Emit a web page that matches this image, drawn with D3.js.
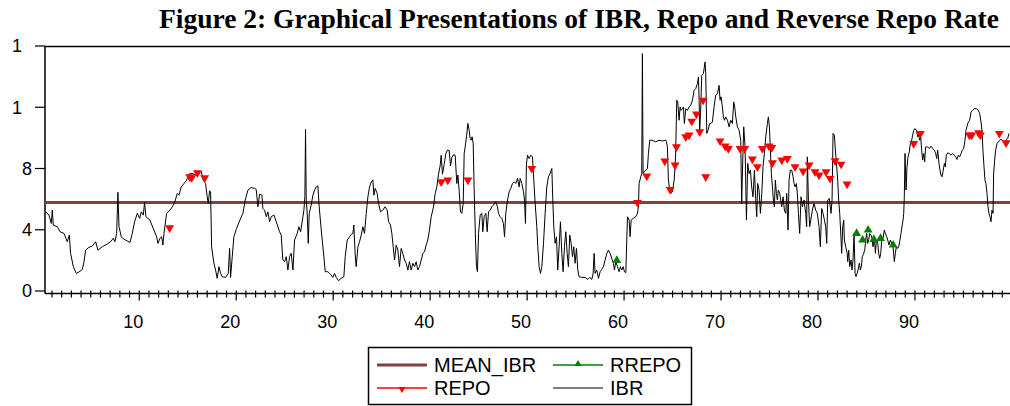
<!DOCTYPE html>
<html>
<head>
<meta charset="utf-8">
<script src="https://cdn.jsdelivr.net/npm/d3@7"></script>
<style>
  body { margin: 0; background: #fff; }
  svg { display: block; }
  .tick-label { font-family: Arial, "Liberation Sans", sans-serif; font-size: 18px; fill: #000; }
  .legend-label { font-family: Arial, "Liberation Sans", sans-serif; font-size: 20px; fill: #000; }
</style>
</head>
<body>
<svg id="chart" width="1010" height="406"></svg>
<script>
const TITLE = 'Figure 2: Graphical Presentations of IBR, Repo and Reverse Repo Rate';

const meanIbr = 5.78;

const yTickValues = [0, 4, 8, 12, 16];
const yTickLabels = ['0', '4', '8', '1', '1'];
const xMajorTicks = [10, 20, 30, 40, 50, 60, 70, 80, 90];
const xMinorTicks = d3.range(1, 100);

// IBR daily series, [x, rate]
const ibr = [
  [0.35,5.17],[0.69,4.96],[0.93,4.41],[1.03,5.28],[1.14,4.30],[1.55,4.20],[1.82,3.87],[2.24,3.76],[2.58,3.22],[2.79,3.65],
  [2.92,2.46],[3.20,1.59],[3.51,1.15],[3.78,1.24],[4.13,1.41],[4.30,1.91],[4.47,2.67],[4.81,2.85],[5.16,2.94],[5.50,3.22],
  [5.74,2.67],[6.19,2.89],[6.70,3.07],[7.05,3.22],[7.32,3.44],[7.49,3.22],[7.67,3.76],[7.80,6.44],[7.91,4.20],[8.15,3.54],
  [8.29,3.44],[8.59,3.33],[9.04,3.17],[9.28,3.76],[9.52,4.52],[9.80,5.07],[10.04,4.74],[10.21,5.17],[10.42,4.96],[10.55,5.79],
  [10.69,4.85],[11.10,4.63],[11.51,3.98],[11.79,3.54],[11.93,3.11],[12.13,3.44],[12.31,3.54],[12.44,3.00],[12.55,3.76],[12.82,5.07],
  [13.16,5.28],[13.41,5.50],[13.68,5.83],[13.92,6.37],[14.09,6.26],[14.33,6.80],[14.61,7.02],[14.88,7.24],[15.12,7.63],[15.47,7.68],
  [15.81,7.57],[16.15,7.78],[16.40,7.80],[16.60,7.24],[16.84,7.02],[17.01,6.15],[17.12,5.72],[17.25,6.54],[17.36,6.48],[17.46,2.89],
  [17.70,1.81],[17.87,1.37],[18.04,0.83],[18.22,1.59],[18.39,1.15],[18.56,0.93],[18.90,0.89],[19.18,1.15],[19.32,2.78],[19.42,0.89],
  [19.59,2.24],[19.76,3.54],[20.04,4.09],[20.38,4.63],
  [20.69,5.07],[20.93,5.94],[21.21,6.59],[21.55,6.76],[21.89,6.70],[22.06,6.63],[22.24,5.50],[22.41,6.33],[22.65,6.26],[22.75,5.39],
  [22.92,5.28],[23.10,4.85],[23.27,5.17],[23.44,4.52],[23.61,4.85],[23.89,4.96],[24.13,4.52],[24.47,3.87],[24.64,3.65],[24.81,2.02],
  [24.99,1.91],[25.16,2.24],[25.33,1.37],[25.50,2.24],[25.67,2.46],[25.85,1.37],[26.02,3.33],[26.29,3.76],[26.46,4.20],[26.64,3.87],
  [26.88,4.85],[26.98,5.28],[27.08,6.15],[27.15,10.55],[27.22,5.94],[27.32,5.07],[27.43,3.11],[27.53,5.07],[27.73,5.61],[27.91,6.26],
  [28.08,6.59],[28.25,6.80],[28.42,6.87],[28.56,5.50],[28.77,3.98],[29.04,2.24],[29.18,1.26],[29.45,1.26],[29.63,1.15],[29.80,1.04],
  [29.97,0.89],[30.14,1.15],[30.31,0.89],[30.55,0.67],[30.83,0.83],[31.10,0.93],[31.24,2.24],[31.45,3.33],[31.69,3.54],[31.86,3.70],
  [32.03,3.76],[32.13,4.31],[32.27,2.35],[32.37,1.59],[32.55,2.89],[32.72,3.22],[32.89,3.65],[33.06,4.20],[33.23,3.76],[33.41,5.07],
  [33.58,6.15],[33.75,6.80],[33.92,7.11],[34.09,7.26],[34.20,6.26],[34.33,6.70],[34.54,6.37],[34.68,5.72],[34.88,5.17],[35.12,5.28],
  [35.36,5.50],[35.57,5.28],[35.71,4.52],[35.91,4.31],[36.05,3.76],[36.19,2.89],[36.33,2.02],[36.50,3.00],[36.67,2.67],[36.84,1.59],
  [37.01,2.78],[37.18,2.46],[37.36,2.02],[37.53,1.81],[37.70,1.37],[37.87,1.91],[38.04,1.37],[38.22,1.81],[38.39,1.59],[38.56,1.91],
  [38.73,1.37],[38.90,1.59],[39.08,2.02],[39.25,2.46],[39.42,2.56],[39.59,3.00],[39.76,3.33],[39.93,3.98],[40.11,4.85],
  [40.35,5.50],[40.52,6.37],[40.69,6.80],[40.86,7.63],[41.03,8.17],[41.14,8.87],[41.27,7.63],[41.45,8.28],[41.62,8.98],[41.79,9.20],
  [41.96,9.17],[42.10,8.17],[42.24,8.72],[42.41,8.90],[42.58,8.87],[42.75,7.02],[42.86,7.57],[42.99,6.59],[43.13,5.17],[43.27,5.07],
  [43.41,5.72],[43.51,8.98],[43.61,9.41],[43.75,10.07],[43.89,10.94],[44.02,10.50],[44.13,9.96],[44.23,9.85],[44.33,10.07],[44.44,9.63],
  [44.54,6.59],[44.68,3.33],[44.78,1.59],[44.88,1.26],[44.99,3.76],[45.16,4.96],[45.33,5.07],[45.43,3.87],[45.57,4.85],[45.74,5.07],
  [45.88,3.87],[46.02,5.17],[46.19,5.28],[46.36,5.50],[46.53,5.61],[46.77,5.83],[46.94,5.50],[47.05,5.07],[47.22,4.85],[47.39,4.74],
  [47.56,4.41],[47.67,3.54],[47.80,5.07],[47.98,5.94],[48.15,6.48],[48.32,6.70],[48.49,7.02],[48.66,7.13],[48.83,7.02],[49.01,7.35],
  [49.18,6.80],[49.28,7.35],[49.45,7.02],[49.63,6.48],[49.73,5.94],[49.83,4.41],[49.93,8.28],[50.04,8.87],[50.21,8.65],[50.38,8.87],
  [50.55,8.76],[50.69,7.24],[50.83,5.72],[51.00,4.20],[51.10,2.89],[51.24,1.59],[51.38,1.15],[51.52,1.59],[51.69,3.11],[51.86,5.07],
  [52.03,6.80],[52.20,7.46],[52.37,7.67],[52.55,8.00],[52.65,5.94],[52.75,4.20],[52.89,3.11],[53.03,3.54],[53.16,1.37],[53.30,2.89],
  [53.44,4.52],[53.58,2.46],[53.71,1.26],[53.85,2.89],[53.99,3.87],[54.13,2.46],[54.26,1.59],[54.40,3.65],[54.54,3.11],[54.68,2.24],
  [54.81,2.89],[54.95,1.81],[55.09,2.78],[55.23,1.37],[55.36,0.93],[55.64,0.89],[55.98,0.89],[56.26,0.76],[56.46,0.89],[56.67,0.76],
  [56.81,1.15],[56.91,2.46],[57.01,1.15],[57.18,1.37],[57.36,0.83],[57.53,1.26],[57.70,1.41],[57.87,1.59],[58.04,2.02],[58.22,2.46],
  [58.39,2.67],[58.56,2.46],[58.73,2.13],[58.90,1.81],[59.01,1.37],[59.14,1.91],[59.32,1.59],[59.49,1.26],[59.63,1.59],[59.76,1.37],
  [59.90,1.59],[60.04,1.26],[60.18,1.20],
  [60.35,4.85],[60.52,4.63],[60.62,3.55],[60.73,4.63],[60.93,4.74],[61.21,4.85],[61.38,5.07],[61.48,5.50],[61.55,7.02],[61.72,7.46],
  [61.82,7.67],[61.89,15.50],[61.96,7.67],[62.06,7.78],[62.24,7.89],[62.41,8.00],[62.51,8.98],[62.65,9.85],[62.86,9.85],[63.27,9.74],
  [63.61,9.85],[63.95,9.80],[64.30,9.85],[64.37,9.74],[64.47,9.41],[64.57,7.24],[64.71,6.59],[64.81,6.37],[64.99,6.48],[65.16,7.24],
  [65.26,8.11],[65.33,9.20],[65.43,12.46],[65.54,12.35],[65.67,11.15],[65.78,12.02],[65.88,11.80],[66.02,11.91],[66.12,12.02],[66.22,10.94],
  [66.36,11.91],[66.53,11.80],[66.70,12.02],[66.88,12.13],[67.05,12.46],[67.22,13.11],[67.39,13.22],[67.56,13.54],[67.67,13.98],[67.74,12.46],
  [67.80,10.50],[67.91,12.02],[68.01,14.09],[68.18,14.20],[68.35,14.96],[68.42,14.20],[68.53,10.29],[68.66,10.50],[68.83,10.94],[68.97,10.94],
  [69.11,11.04],[69.28,12.02],[69.45,12.79],[69.63,12.89],[69.80,13.43],[69.90,12.46],[70.00,12.68],[70.14,12.02],[70.24,11.37],[70.35,11.15],
  [70.48,11.37],[70.66,11.15],[70.83,10.72],[71.00,11.15],[71.17,10.94],[71.31,12.35],[71.41,12.02],[71.52,11.37],[71.69,10.72],[71.86,10.50],
  [72.03,9.85],[72.13,5.72],[72.24,8.55],[72.34,10.72],[72.48,9.41],[72.62,4.63],[72.75,8.33],[72.89,7.67],[73.03,7.89],[73.16,6.80],
  [73.30,6.15],[73.44,7.89],[73.58,5.94],[73.68,4.85],[73.78,7.02],[73.92,6.59],[74.06,5.07],[74.20,6.37],[74.33,8.11],[74.47,8.98],
  [74.61,10.07],[74.78,10.94],[74.88,11.37],[74.99,10.72],[75.09,9.20],[75.19,7.67],[75.30,6.80],[75.40,5.94],[75.50,5.50],[75.60,7.24],
  [75.71,6.37],[75.81,5.94],[75.91,6.59],[76.05,6.37],[76.15,5.94],[76.26,5.50],[76.40,6.15],[76.53,5.28],[76.67,5.07],[76.77,6.37],
  [76.91,3.98],[77.01,7.24],[77.15,7.89],[77.29,7.89],[77.43,7.46],[77.53,7.02],[77.63,6.80],[77.77,7.02],[77.87,6.37],[77.98,5.07],
  [78.11,3.76],[78.25,6.15],[78.39,5.50],[78.56,5.94],[78.73,5.07],[78.83,4.20],[78.90,8.76],[79.01,5.94],[79.14,4.20],[79.25,4.63],
  [79.42,5.28],[79.59,5.72],[79.76,5.28],[79.93,5.07],
  [80.11,4.20],[80.24,2.89],[80.38,5.39],[80.52,5.07],[80.66,4.63],[80.79,4.20],[80.90,3.11],[81.00,5.94],[81.17,6.04],[81.34,5.07],
  [81.45,5.94],[81.55,10.29],[81.69,10.18],[81.79,9.20],[81.93,8.11],[82.03,7.24],[82.13,5.94],[82.24,5.07],[82.38,3.33],[82.44,2.46],
  [82.55,4.20],[82.65,4.63],[82.72,3.33],[82.86,2.89],[83.01,2.46],[83.06,1.92],[83.17,2.67],[83.27,1.59],[83.41,2.02],[83.51,1.37],
  [83.61,2.02],[83.72,3.76],[83.82,1.15],[83.92,0.94],[84.03,1.15],[84.13,1.37],[84.27,1.81],[84.37,1.37],[84.47,1.59],[84.57,2.24],
  [84.71,2.46],[84.82,2.67],[84.92,3.33],[85.02,3.76],[85.12,3.11],[85.23,3.33],[85.33,3.76],[85.47,3.65],[85.57,3.44],[85.67,2.89],
  [85.81,3.55],[85.92,2.46],[86.02,3.33],[86.16,3.11],[86.26,2.46],[86.36,2.13],[86.47,2.46],[86.57,3.33],[86.71,3.44],[86.84,3.98],
  [86.95,3.76],[87.08,3.55],[87.19,3.33],[87.32,3.00],[87.46,3.33],[87.60,3.11],[87.74,2.89],[87.87,1.92],[87.98,2.46],[88.08,2.89],
  [88.22,2.78],[88.32,2.89],[88.42,3.22],[88.56,3.76],[88.66,4.20],[88.77,4.63],[88.84,5.07],[88.90,6.15],[88.97,8.98],[89.08,6.59],
  [89.18,8.11],[89.28,8.76],[89.42,9.09],[89.52,9.63],[89.63,9.74],[89.73,10.07],[89.87,10.50],[90.00,10.61],[90.14,10.50],[90.28,10.07],
  [90.38,10.18],[90.49,9.85],[90.59,10.07],[90.69,9.20],[90.79,8.55],[90.90,8.98],[91.00,8.44],[91.10,9.41],[91.21,9.41],[91.31,9.41],
  [91.48,9.30],[91.65,9.46],[91.83,9.30],[92.00,9.20],[92.13,8.98],[92.24,8.65],[92.34,9.20],[92.48,8.33],[92.58,7.89],[92.68,7.57],
  [92.79,7.46],[92.89,7.78],[93.03,8.33],[93.13,8.11],[93.23,8.87],[93.37,9.02],[93.54,8.98],[93.72,8.87],[93.89,8.98],[94.06,8.87],
  [94.20,8.76],[94.33,8.59],[94.47,8.87],[94.61,8.76],[94.75,8.98],[94.88,9.20],[95.02,9.30],[95.16,9.85],[95.26,10.50],[95.37,10.76],
  [95.50,11.04],[95.64,11.15],[95.78,11.70],[95.95,11.80],[96.12,11.91],[96.33,11.91],[96.53,11.80],[96.67,11.59],[96.81,11.04],[96.91,10.50],
  [97.01,9.20],[97.12,8.11],[97.22,7.24],[97.32,7.02],[97.43,6.37],[97.53,5.50],[97.63,5.07],[97.74,4.85],[97.84,4.52],[97.94,5.28],
  [98.05,5.07],[98.11,7.67],[98.22,8.55],[98.32,9.20],[98.46,9.63],[98.60,9.74],[98.73,9.85],[98.87,9.89],[99.04,9.85],[99.21,9.74],
  [99.39,9.85],[99.56,9.96],[99.70,10.29]
];

const repo = [
  [13.13,4.13],[15.2,7.45],[15.4,7.4],[16.0,7.72],[16.75,7.39],[41.14,7.13],[41.82,7.24],[43.89,7.24],[50.48,8.0],
  [61.38,5.78],[62.34,7.5],[64.20,8.48],[64.75,6.63],[65.26,8.22],[65.40,9.41],[66.36,10.07],[66.70,10.18],[66.98,11.09],
  [67.46,11.55],[67.80,10.39],[68.15,12.46],[68.42,7.46],[69.90,9.8],[70.42,9.46],[70.76,9.3],[71.96,9.3],[72.44,9.3],
  [73.23,8.61],[73.75,8.11],[74.26,9.3],[74.95,9.46],[75.23,9.37],[75.30,8.37],[76.26,8.55],[76.84,8.65],[77.63,8.11],
  [78.46,7.83],[79.08,8.22],[79.69,7.78],[80.11,7.57],[80.83,7.78],[81.24,7.35],[81.76,8.5],[82.38,8.28],[83.0,6.98],
  [89.87,9.63],[90.55,10.29],[95.61,10.18],[95.85,10.18],[96.57,10.33],[96.74,10.18],[98.70,10.29],[99.39,9.67]
];

const rrepo = [
  [59.25,2.0],[83.98,3.76],[84.60,3.33],[85.17,3.98],[85.76,3.37],[86.45,3.44],[87.75,3.0]
];

const legendItems = [
  { name: 'MEAN_IBR', kind: 'mean', col: 0, row: 0 },
  { name: 'RREPO', kind: 'rrepo', col: 1, row: 0 },
  { name: 'REPO', kind: 'repo', col: 0, row: 1 },
  { name: 'IBR', kind: 'ibr', col: 1, row: 1 }
];

const COLORS = { mean: '#804040', repo: '#ff0000', rrepo: '#008000', ibr: '#000' };

const svg = d3.select('#chart');

const plot = { left: 45, right: 1010, top: 46, bottom: 291 };

const xScale = d3.scaleLinear().domain([0.28, 99.8]).range([plot.left, plot.right]);
const yScale = d3.scaleLinear().domain([0, 16]).range([plot.bottom, plot.top]);

// title
svg.append('text')
  .attr('x', 579)
  .attr('y', 28)
  .attr('text-anchor', 'middle')
  .style('font-family', '"Liberation Serif", "Times New Roman", serif')
  .style('font-weight', 'bold')
  .style('font-size', '27.5px')
  .text(TITLE);

// frame: top line and left axis
svg.append('line')
  .attr('x1', plot.left).attr('x2', plot.right)
  .attr('y1', plot.top + 0.5).attr('y2', plot.top + 0.5)
  .attr('stroke', '#000').attr('stroke-width', 1.5);

const axisY = plot.bottom + 2.5;

svg.append('line')
  .attr('x1', plot.left).attr('x2', plot.left)
  .attr('y1', plot.top).attr('y2', axisY)
  .attr('stroke', '#000').attr('stroke-width', 1.5);

// y axis ticks + labels (labels of two-digit values show only their first digit,
// but keep the two-digit alignment)
const yAxis = svg.append('g');
yAxis.selectAll('line')
  .data(yTickValues)
  .enter()
  .append('line')
  .attr('x1', plot.left - 10).attr('x2', plot.left)
  .attr('y1', (d) => yScale(d)).attr('y2', (d) => yScale(d))
  .attr('stroke', '#000').attr('stroke-width', 1.2);
yAxis.selectAll('text')
  .data(yTickValues)
  .enter()
  .append('text')
  .attr('class', 'tick-label')
  .attr('x', plot.left - 13)
  .attr('y', (d) => yScale(d))
  .attr('dy', '0.36em')
  .attr('dx', (d, i) => `${-(String(d).length - yTickLabels[i].length) * 0.556}em`)
  .attr('text-anchor', 'end')
  .text((d, i) => yTickLabels[i]);

// x axis
svg.append('line')
  .attr('x1', plot.left).attr('x2', plot.right)
  .attr('y1', axisY).attr('y2', axisY)
  .attr('stroke', '#000').attr('stroke-width', 1.5);

svg.append('g')
  .selectAll('line')
  .data(xMinorTicks)
  .enter()
  .append('line')
  .attr('x1', (d) => xScale(d)).attr('x2', (d) => xScale(d))
  .attr('y1', axisY - 3)
  .attr('y2', (d) => (d % 10 === 0 ? axisY + 7 : axisY + 4))
  .attr('stroke', '#000').attr('stroke-width', 1.2);

svg.append('g')
  .selectAll('text')
  .data(xMajorTicks)
  .enter()
  .append('text')
  .attr('class', 'tick-label')
  .attr('x', (d) => xScale(d) - 6)
  .attr('y', 328)
  .attr('text-anchor', 'middle')
  .text((d) => d);

// mean line
svg.append('line')
  .attr('x1', plot.left).attr('x2', plot.right)
  .attr('y1', yScale(meanIbr)).attr('y2', yScale(meanIbr))
  .attr('stroke', COLORS.mean).attr('stroke-width', 3);

// IBR line
const line = d3.line()
  .x((d) => xScale(d[0]))
  .y((d) => yScale(d[1]));

svg.append('path')
  .datum(ibr)
  .attr('d', line)
  .attr('fill', 'none')
  .attr('stroke', COLORS.ibr)
  .attr('stroke-width', 1)
  .attr('stroke-linejoin', 'round');

const tri = d3.symbol().type(d3.symbolTriangle).size(34);

svg.append('g')
  .selectAll('path')
  .data(repo)
  .enter()
  .append('path')
  .attr('d', tri)
  .attr('transform', (d) => `translate(${xScale(d[0])},${yScale(d[1])}) rotate(180)`)
  .attr('fill', COLORS.repo);

svg.append('g')
  .selectAll('path')
  .data(rrepo)
  .enter()
  .append('path')
  .attr('d', tri)
  .attr('transform', (d) => `translate(${xScale(d[0])},${yScale(d[1])})`)
  .attr('fill', COLORS.rrepo);

// legend
const legend = svg.append('g');
legend.append('rect')
  .attr('x', 368.5).attr('y', 347.5)
  .attr('width', 323).attr('height', 57)
  .attr('fill', '#fff')
  .attr('stroke', '#000')
  .attr('stroke-width', 1.5);

const colX = [377, 553];
const rowY = [365, 388];

legendItems.forEach((it) => {
  const x0 = colX[it.col];
  const y0 = rowY[it.row];
  const lg = legend.append('g');
  lg.append('line')
    .attr('x1', x0).attr('x2', x0 + 50)
    .attr('y1', y0).attr('y2', y0)
    .attr('stroke', it.kind === 'ibr' ? '#555' : COLORS[it.kind])
    .attr('stroke-width', it.kind === 'mean' ? 3 : 1.5);
  if (it.kind === 'repo' || it.kind === 'rrepo') {
    lg.append('path')
      .attr('d', d3.symbol().type(d3.symbolTriangle).size(22))
      .attr('transform', `translate(${x0 + 25},${y0 + (it.kind === 'repo' ? 1 : -1)})` + (it.kind === 'repo' ? ' rotate(180)' : ''))
      .attr('fill', COLORS[it.kind]);
  }
  lg.append('text')
    .attr('class', 'legend-label')
    .attr('x', x0 + 57)
    .attr('y', y0)
    .attr('dy', '0.36em')
    .text(it.name);
});
</script>
</body>
</html>
